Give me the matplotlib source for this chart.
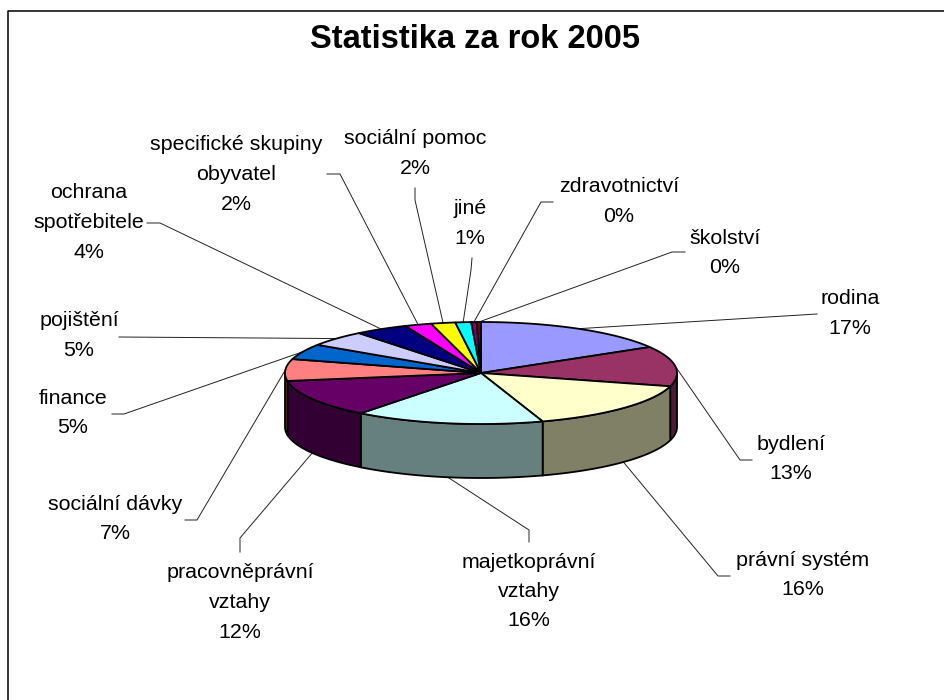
# -*- coding: utf-8 -*-
import numpy as np
import matplotlib
matplotlib.use("Agg")
import matplotlib.pyplot as plt
from matplotlib.patches import Polygon

plt.rcParams['font.family'] = ['Liberation Sans', 'DejaVu Sans']

# slices, clockwise from 12 o'clock
names = ["rodina", "bydlení", "právní systém", "majetkoprávní\nvztahy",
         "pracovněprávní\nvztahy", "sociální dávky", "finance", "pojištění",
         "ochrana\nspotřebitele", "specifické skupiny\nobyvatel",
         "sociální pomoc", "jiné", "zdravotnictví", "školství"]
values = [16.51, 12.7, 15.7, 15.6, 12.0, 6.9, 4.9, 5.0, 4.4, 2.2, 2.0, 1.3, 0.45, 0.35]
colors = ["#9999FF", "#993366", "#FFFFCC", "#CCFFFF", "#660066", "#FF8080", "#0066CC",
          "#CCCCFF", "#000080", "#FF00FF", "#FFFF00", "#00FFFF", "#800080", "#800000"]
side_colors = ["#4D4D80", "#4D1A33", "#808066", "#668080", "#330033", "#804040", "#003366",
               "#666680", "#000040", "#800080", "#808000", "#008080", "#400040", "#400000"]

# label centres (first line) and leader waypoints, in pixels
label_x = [850, 791, 803, 529, 240, 115, 73, 79, 89, 236, 415, 470, 619, 725]
label_y = [299, 444, 560, 562, 573, 504, 398, 321, 193, 145, 139, 209, 187, 238]
leaders = [[(817, 314)], [(752, 460), (740, 460)], [(730, 576), (718, 576)],
           [(529, 542), (529, 530)], [(240, 552), (240, 538)], [(185, 520), (197, 520)],
           [(112, 414), (124, 414)], [(119, 337)], [(147, 223), (160, 223)],
           [(327, 174), (340, 174)], [(415, 188), (415, 200)], [(472, 258), (471, 270)],
           [(553, 202), (541, 202)], [(685, 252), (672, 252)]]

cx, cy = 481, 373
rx, ry = 196, 51
depth = 54
line_h = 29.5


def rim(t):
    return cx + rx * np.sin(t), cy - ry * np.cos(t)


fig = plt.figure(figsize=(9.44, 7.0), dpi=100)
ax = fig.add_axes([0, 0, 1, 1])
ax.set_xlim(0, 944)
ax.set_ylim(700, 0)
ax.axis("off")

# outer frame, only top and left are in the crop
ax.plot([8, 8, 944], [700, 11, 11], color="black", lw=1.1)

ax.text(475, 39, "Statistika za rok 2005", ha="center", va="center",
        fontsize=23.5, fontweight="bold")

edges = np.cumsum([0] + values) / sum(values) * 2 * np.pi

# walls of the front half
for i in range(len(values)):
    t0, t1 = max(edges[i], np.pi / 2), min(edges[i + 1], 3 * np.pi / 2)
    if t1 <= t0:
        continue
    t = np.linspace(t0, t1, 60)
    x, y = rim(t)
    pts = np.r_[np.c_[x, y], np.c_[x[::-1], y[::-1] + depth]]
    ax.add_patch(Polygon(pts, closed=True, fc=side_colors[i], ec="black", lw=1.3, zorder=2))

# top face
for i in range(len(values)):
    t = np.linspace(edges[i], edges[i + 1], 60)
    x, y = rim(t)
    pts = np.r_[[(cx, cy)], np.c_[x, y]]
    ax.add_patch(Polygon(pts, closed=True, fc=colors[i], ec="black", lw=1.3,
                         joinstyle="round", zorder=3))

# labels and leaders
for i in range(len(values)):
    lines = names[i].split("\n") + ["%d%%" % round(values[i])]
    for j, s in enumerate(lines):
        ax.text(label_x[i], label_y[i] + j * line_h, s, ha="center", va="center", fontsize=15.4)
    mid = (edges[i] + edges[i + 1]) / 2
    mx, my = rim(mid)
    if np.pi / 2 < mid < 3 * np.pi / 2:
        my += depth
    px = [p[0] for p in leaders[i]] + [mx]
    py = [p[1] for p in leaders[i]] + [my]
    ax.plot(px, py, color="#222222", lw=0.7, zorder=1)

fig.savefig("out.png", dpi=100)
